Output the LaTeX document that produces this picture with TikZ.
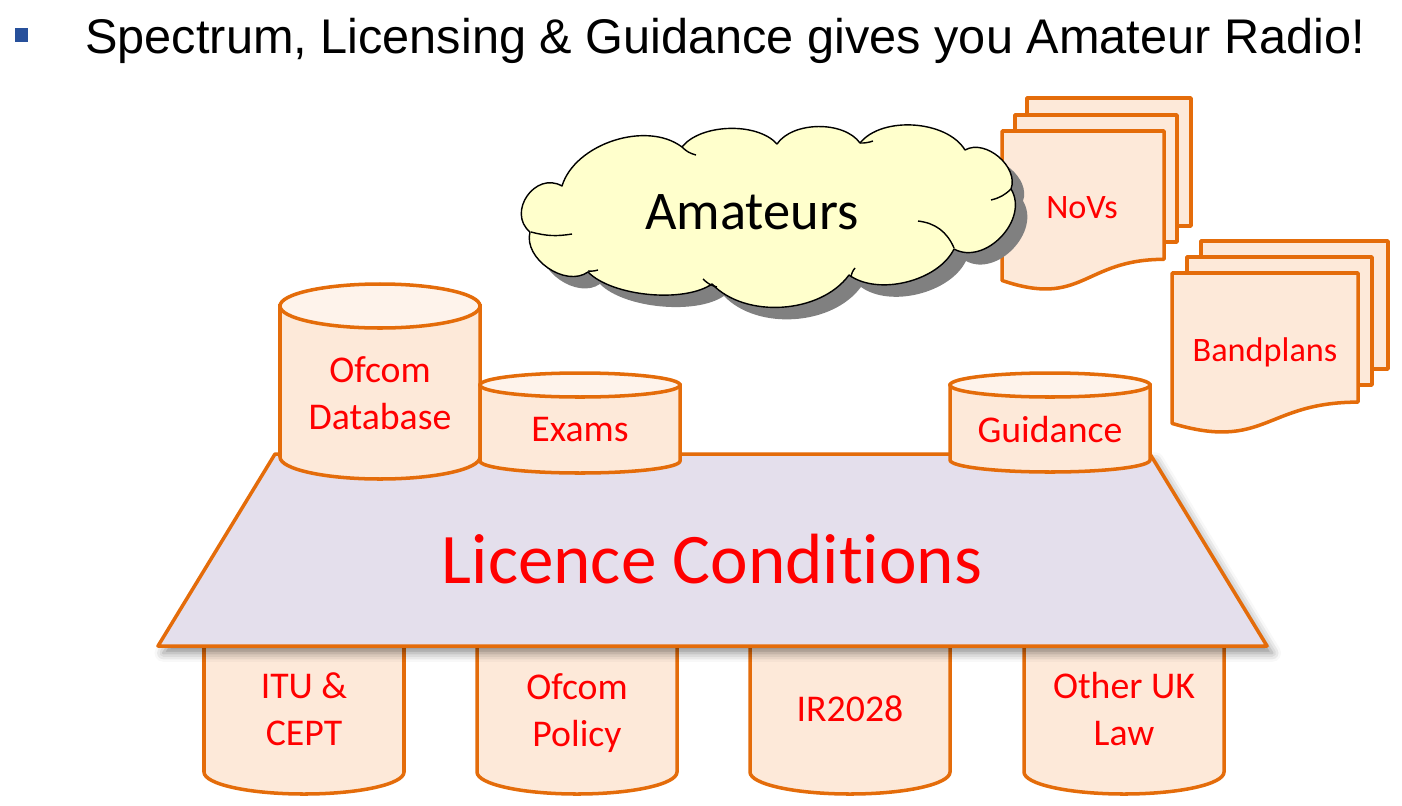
\documentclass[tikz,border=0pt]{standalone}
\usepackage{fontspec}
\setmainfont{Carlito}[Ligatures=NoCommon]
\newfontfamily\titlefont{Liberation Sans}
\usetikzlibrary{shadows, shadows.blur}
\definecolor{rim}{HTML}{E46C0A}
\definecolor{peach}{HTML}{FDE9D9}
\definecolor{peachtop}{HTML}{FEF3EB}
\definecolor{lilac}{HTML}{E4DFEC}
\definecolor{cream}{HTML}{FFFFCC}
\definecolor{bulletblue}{HTML}{27509B}
% centre x, top y, bottom y, half width, y radius
\newcommand{\drum}[5]{%
\filldraw[drumbody] (#1-#4,#2) -- (#1-#4,#3) arc[start angle=180, end angle=0, x radius=#4, y radius=#5] -- (#1+#4,#2) -- cycle;
\filldraw[drumtop] (#1,#2) ellipse[x radius=#4, y radius=#5];}
% left, top, width, height
\newcommand{\docpage}[4]{%
\filldraw[sheet] (#1,#2) -- (#1+#3,#2) -- (#1+#3,#2+0.802*#4) .. controls (#1+0.5*#3,#2+0.802*#4) and (#1+0.5*#3,#2+1.1075*#4) .. (#1,#2+0.934*#4) -- cycle;}

\begin{document}
\begin{tikzpicture}[x=0.02cm, y=-0.02cm,
  drumbody/.style={draw=rim, fill=peach, line width=2pt},
  drumtop/.style={draw=rim, fill=peachtop, line width=2pt},
  sheet/.style={draw=rim, fill=peach, line width=2pt, line join=round},
  lbl/.style={text=red, align=center, font=\fontsize{21.5}{27}\selectfont}]
\useasboundingbox (0,0) rectangle (1402,805);
% heading
\fill[bulletblue] (15,28) rectangle (28,42);
\node[anchor=base west, inner sep=0, font=\titlefont\fontsize{27.7}{33}\selectfont] (heading) at (85,53) {Spectrum, Licensing \& Guidance gives you Amateur Radio!};

% NoVs and bandplans
\filldraw[sheet] (1027,98) rectangle (1191,226);
\filldraw[sheet] (1015,115) rectangle (1177,242);
\docpage{1002}{131}{162}{160}
\node[lbl, font=\fontsize{19.5}{24}\selectfont] (novs) at (1082,208) {NoVs};
\filldraw[sheet] (1201,241) rectangle (1388,369);
\filldraw[sheet] (1187,257) rectangle (1372,385);
\docpage{1172}{273}{186}{161}
\node[lbl, font=\fontsize{19.5}{24}\selectfont] (bandplans) at (1265,352) {Bandplans};

% the cloud
\filldraw[draw=black, line width=0.8pt, fill=cream, line join=round,
  drop shadow={shadow xshift=6.8pt, shadow yshift=-6.8pt, fill=black!50, opacity=1}]
  (562,186) to[bend left=55, looseness=0.9] (682,147) to[bend left=50, looseness=0.8] (777,144)
  to[bend left=55, looseness=0.85] (860,143) to[bend left=55, looseness=0.85] (965,150)
  to[bend left=70] (1011,189) to[bend left=75, looseness=1.1] (954,249)
  to[bend left=50, looseness=0.85] (849,275) to[bend left=50, looseness=0.9] (712,284)
  to[bend left=40, looseness=0.7] (588,272) to[bend left=70] (530,232)
  to[bend left=85, looseness=1.4] (562,186) -- cycle;
\draw[line width=0.8pt] (572,234) to[bend left=12] (531,232)
  (598,270) to[bend left=10] (588,271)
  (717,287) to[bend left=15] (703,279)
  (851,277) to[bend left=15] (855,268)
  (918,221) to[bend left=30] (954,248)
  (991,200) to[bend right=15] (1011,189)
  (696,155) to[bend left=15] (682,147)
  (873,141) to[bend left=10] (860,143);
\node[font=\fontsize{31}{36}\selectfont] (amateurs) at (752,212) {Amateurs};

% what the licence stands on
\drum{304}{600}{772}{100}{22}
\drum{577}{600}{772}{100}{22}
\drum{850}{600}{772}{100}{22}
\drum{1124}{600}{772}{100}{22}
\node[lbl] (itu) at (304,709) {ITU \&\\CEPT};
\node[lbl] (policy) at (577,713) {Ofcom\\Policy};
\node[lbl] (ir) at (850,709) {IR2028};
\node[lbl] (otherlaw) at (1124,709) {Other UK\\Law};

% licence conditions
\filldraw[draw=rim, fill=lilac, line width=2pt, line join=round,
  blur shadow={shadow xshift=3pt, shadow yshift=-4pt, shadow blur radius=5pt, shadow opacity=45}]
  (158,646) -- (275,454) -- (1150,454) -- (1267,646) -- cycle;
\node[text=red, font=\fontsize{40.5}{48}\selectfont] (licence) at (712,559) {Licence Conditions};

% what sits on top
\drum{380}{306}{457}{100}{22}
\drum{580}{385}{461}{100}{12}
\drum{1050}{385}{460}{100}{12}
\node[lbl] (ofcomdb) at (380,393) {Ofcom\\Database};
\node[lbl] (exams) at (580,430) {Exams};
\node[lbl] (guidance) at (1050,430) {Guidance};
\end{tikzpicture}
\end{document}
